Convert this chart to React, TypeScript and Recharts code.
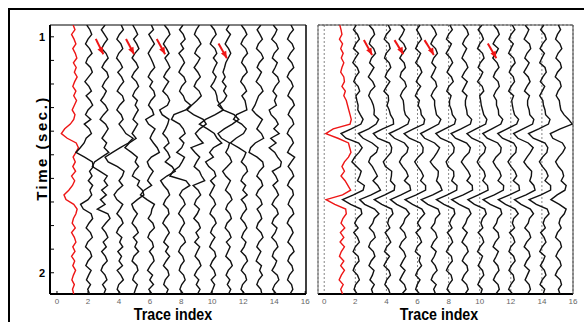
import React from 'react';
import { ScatterChart, Scatter, XAxis, YAxis, CartesianGrid } from 'recharts';

// sample times (sec.) shared by every trace
const times = [
  0.95, 0.97, 0.99, 1.01, 1.03, 1.05, 1.07, 1.09, 1.11, 1.13,
  1.15, 1.17, 1.19, 1.21, 1.23, 1.25, 1.27, 1.29, 1.31, 1.33,
  1.35, 1.37, 1.39, 1.41, 1.43, 1.45, 1.47, 1.49, 1.51, 1.53,
  1.55, 1.57, 1.59, 1.61, 1.63, 1.65, 1.67, 1.69, 1.71, 1.73,
  1.75, 1.77, 1.79, 1.81, 1.83, 1.85, 1.87, 1.89, 1.91, 1.93,
  1.95, 1.97, 1.99, 2.01, 2.03, 2.05, 2.07, 2.09,
];

const timeTicks = [1.0, 1.1, 1.2, 1.3, 1.4, 1.5, 1.6, 1.7, 1.8, 1.9, 2.0];
const traceTicks = [0, 2, 4, 6, 8, 10, 12, 14, 16];

// amplitudes in hundredths of a trace spacing; trace 1 is the red one
const leftRed = [
  4, 16, -6, 10, 22, 2, 18, 28, 6, 24,
  12, 30, 14, 2, 22, 8, 26, 12, -2, 16,
  8, -14, -50, -72, -34, 24, 38, 22, 4, 18,
  2, 20, -6, 14, 0, -24, -55, -42, 8, 30,
  22, 6, -2, 18, -6, 12, 22, 2, 16, -6,
  14, 2, 20, 6, -4, 12, 0, 8,
];

// traces 2..15 of the raw gather
const leftBlack = [
  [-8, 12, 24, 0, -16, 10, 26, -2, -14, 16, 28, 4, -20, 6, 22, -12, 14, 30, 0, -16, 18, -24, 8, 22, -12, -25, -50, -78, -22, 28, 34, 10, 26, 2, 30, 12, 24, 0, -48, -30, 20, 30, 6, -12, 16, 28, -2, -16, 14, 24, 0, -14, 20, 4, -10, 16, -2, 10],
  [10, -14, 6, 26, 4, -12, 16, 30, 6, -10, 22, 32, 8, -8, 18, 2, -18, 12, 28, 0, -22, 14, 30, 10, -10, 20, 4, 34, -12, -58, -72, -22, 24, 4, 26, -12, 18, -20, 10, -40, 28, 42, 14, -10, 14, 28, -2, 18, -12, 12, 24, -4, -16, 10, 22, -6, 14, 2],
  [14, 28, 2, -14, 12, 24, -2, -16, 8, 22, -8, 16, 30, 6, -12, 22, 32, 4, -14, 14, 26, 0, 24, 44, 90, 60, 8, -42, -90, -70, -10, 32, 22, 0, 24, -10, -32, -14, 24, 6, -14, 14, 26, -2, -16, 18, 4, 24, -8, 16, 0, 22, -12, 12, 28, -2, -12, 10],
  [-12, 6, 20, -6, 14, 28, 2, -16, 10, 24, -2, -18, 12, 26, 2, -12, 18, 4, 24, 6, -10, 20, 2, -16, 10, -34, -62, -20, 18, 4, 26, 0, -14, 32, 18, 50, 60, 18, -18, -6, 18, -2, -16, 10, 24, -8, 16, 2, 26, -4, -16, 14, 22, -2, -12, 18, 6, -4],
  [8, 22, -8, 10, 28, 6, -12, 4, 18, 30, 4, -12, 16, -2, 24, 32, 6, -10, 14, 24, -28, -10, 32, 14, 0, 22, 46, 60, 8, -18, -6, 20, 0, -16, 10, -38, -62, -20, 28, 12, 6, -12, 18, 28, -2, -14, 14, 22, -4, 18, 26, 2, -16, 16, -2, 22, -8, 12],
  [-8, 16, 28, 4, -14, 6, 22, -4, 14, 28, 4, -12, 20, 0, -18, 12, 26, 12, -38, -22, 22, 14, 0, -18, 10, 22, -10, 14, 28, -2, 42, 62, 8, -32, -12, 14, 26, 0, -14, 16, 22, -2, -18, 8, 24, 4, -12, 18, 0, 26, 4, -14, 14, 22, -2, -12, 16, 4],
  [12, -10, 14, 26, -2, 16, -14, 8, 22, 2, -14, 18, 30, 4, -10, 14, 26, 62, 30, -46, -62, -10, 14, 26, -10, 18, 4, -28, 22, 6, -12, -52, -72, 32, 56, 8, -10, 14, 26, 0, -16, 10, 22, 2, -12, 16, 28, -2, -16, 10, 20, -2, -12, 16, 26, 4, -8, 14],
  [18, -2, -14, 12, 28, 2, -12, 22, 6, -16, 8, 24, -2, -16, 16, 30, 2, -32, -62, -20, 42, 62, 20, -8, 14, 42, -36, -10, 20, 0, -16, 18, 32, 52, -22, 10, 26, -2, -14, 18, 4, -18, 12, 24, -4, 14, -12, 20, 4, -10, 16, 28, 2, -14, 14, -2, 22, 6],
  [-10, 14, 26, 2, -12, 18, 30, 8, 32, 16, 4, 26, 12, -8, 20, 30, 34, 52, 72, 20, -42, -82, -30, 14, 32, 62, 8, -16, 8, -42, -22, 14, 24, -10, 16, 0, -16, 10, 22, -2, -14, 14, 26, 2, -10, 18, -2, -16, 16, 24, 2, -12, 12, 22, -6, 16, 4, -10],
  [10, -8, 18, 0, -16, 6, 20, 4, -12, -20, -30, -16, -34, -10, -26, -6, -24, -62, -30, 42, 72, 30, -22, -62, -40, 12, 4, -12, 14, 26, -2, -32, -12, 18, 2, -14, 16, 28, 0, -12, 14, 24, -4, -16, 10, 22, -8, 16, 2, -12, 18, 30, 4, -10, 14, -2, 20, 6],
  [-12, 10, 24, 0, -14, 16, 28, 2, -10, 14, 26, -2, -16, 8, 22, -8, 12, 18, 24, -42, -62, -10, 20, 2, -46, -82, -30, 18, 6, -12, 18, 28, 0, -14, 16, -2, 26, -12, 12, 22, -2, -16, 10, 24, 2, -10, 18, 6, -14, 16, 28, 4, -12, 14, 22, -4, -14, 10],
  [14, -10, 8, 24, -2, -14, 16, 30, 4, -10, 18, 2, -16, 14, 28, 0, -12, -24, -42, -14, 24, 6, -12, 18, 32, -22, -52, -62, -10, 26, 32, 4, -12, 16, 26, -2, -16, 12, 22, -10, 10, 20, -4, -14, 16, 28, 2, -12, 14, -2, -16, 18, 6, 24, 0, -12, 14, 20],
  [-6, 18, 4, -16, 14, 26, 0, -12, 20, 6, -10, 22, 32, 8, -8, 16, 2, 14, -32, -20, 10, 26, -2, 32, -22, 12, -32, 4, 22, 46, 40, -12, 10, 24, -8, 14, 28, 2, -14, 16, 26, -2, -14, 18, 6, -16, 12, 24, -2, -12, 16, 4, -14, 20, 30, 4, -10, 14],
  [8, 24, 0, -14, 16, 28, 4, -12, 14, 26, -2, -16, 10, 22, 2, -12, 18, 30, 4, -10, 16, 26, -2, -16, 12, 24, 2, -14, 32, 10, -10, 14, 26, 0, -14, 18, 24, 2, -10, 16, 26, -2, -16, 10, 22, 4, -12, 16, 28, 0, -12, 14, 22, -2, -14, 12, 20, 2],
];

// processed gather: red reference trace and traces 2..15
const rightRed = [
  0, 8, 14, -2, 18, 6, 22, 10, 26, 14,
  6, 26, 30, 14, 36, 26, 42, 50, 58, 66,
  74, 66, -42, -90, -12, 56, 64, 72, 56, 30,
  14, 30, 8, 34, 52, 70, 18, -88, -32, 38,
  42, 20, 8, 32, 4, 26, 2, 30, 10, -2,
  26, 6, 30, 10, -4, 22, 6, 18,
];

const rightBlack = [
  [6, -12, 14, 26, 2, -12, 20, 0, -16, 12, 24, 2, -10, 18, 28, 4, 10, 18, 16, 32, 50, 36, -26, -92, -60, 22, 44, 24, -4, -22, 8, 38, 28, 14, 58, 50, -12, -82, -30, 36, 42, 12, -4, 18, -10, 14, 26, 0, -14, 18, 24, -2, -14, 14, 26, 2, -8, 12],
  [-12, 14, 24, 0, -10, 18, 30, 4, -8, 20, 2, -16, 12, 26, -2, -14, 4, 16, 22, 20, 50, 34, -14, -80, -50, 8, 46, 36, -2, -14, 10, 26, 42, 14, 44, 62, 2, -72, -40, 24, 52, 22, 12, -10, 18, 28, -2, -14, 16, 26, 2, -12, 20, 10, -6, 22, 4, 14],
  [12, 26, 0, -14, 16, 24, -2, -12, 18, 28, 4, -8, 22, 2, -16, 12, 14, 4, 18, 26, 44, 46, -24, -84, -56, 20, 34, 30, 4, -20, -6, 34, 32, 26, 54, 50, -10, -78, -30, 34, 42, 16, 8, 22, -8, 12, 28, 2, -12, 20, 0, -16, 16, 26, 2, -10, 14, 24],
  [-8, 16, 2, -18, 12, 26, 4, -14, 14, 22, -4, -12, 18, 28, 4, -10, 8, 12, 14, 22, 48, 38, -20, -82, -48, 16, 40, 32, 0, -16, 4, 28, 40, 16, 50, 56, -6, -74, -34, 26, 48, 20, 10, -12, 16, 26, -2, -16, 12, 24, 6, -10, 20, 2, -14, 16, 26, 0],
  [16, -6, 12, 26, 2, -12, 20, 6, -12, 16, 28, 8, -8, 20, 0, -14, 12, 4, 20, 24, 46, 40, -26, -86, -52, 18, 36, 34, 4, -18, 2, 24, 38, 20, 52, 52, -8, -80, -32, 28, 46, 18, 0, 20, -10, 14, 26, -2, -14, 18, 10, 26, 2, -12, 16, -2, -12, 14],
  [-12, 10, 22, 0, -14, 16, 28, 4, -8, 18, 4, -12, 16, 24, 2, -12, 10, 10, 16, 22, 50, 36, -22, -80, -54, 10, 42, 26, 6, -18, 5, 34, 32, 22, 46, 58, -2, -76, -34, 32, 44, 16, 10, -12, 16, 26, 2, -12, 20, 8, -10, 14, 26, 0, -12, 20, 4, 16],
  [8, 24, 0, -14, 18, 2, -16, 12, 26, 6, -10, 18, 30, 2, -12, 16, 6, 6, 18, 24, 46, 38, -24, -82, -52, 18, 36, 32, 4, -16, -4, 32, 34, 20, 54, 52, -8, -78, -30, 34, 40, 18, 6, 22, -8, 14, 26, 2, -14, 18, 24, 0, -14, 16, 24, 2, -10, 14],
  [-6, 18, 28, 4, -10, 16, 0, -14, 12, 24, 2, -14, 20, 4, -12, 18, 8, 8, 16, 20, 48, 40, -20, -84, -56, 16, 40, 32, 2, -18, 4, 26, 40, 18, 52, 54, -6, -80, -32, 30, 44, 20, 10, -10, 20, 2, -14, 16, 26, 2, -12, 18, 24, 0, -14, 16, 26, 6],
  [14, -10, 12, 24, 0, -14, 18, 28, 4, -10, 20, 6, -14, 16, 26, 0, 6, 10, 18, 26, 46, 38, -24, -82, -50, 18, 38, 30, 0, -16, 2, 28, 36, 20, 50, 54, -8, -76, -34, 32, 42, 18, 8, 20, -10, 16, 26, 2, -14, 18, 6, -10, 18, 26, 2, -12, 16, 6],
  [-10, 14, 26, 2, -14, 20, 4, -16, 12, 24, 0, -12, 18, 26, 4, -10, 8, 8, 20, 22, 48, 36, -22, -80, -52, 16, 38, 34, 4, -14, 4, 28, 38, 18, 54, 52, -6, -78, -32, 34, 42, 16, 8, -12, 18, 24, 0, -14, 20, 6, -10, 16, 24, 2, -12, 18, 26, 4],
  [10, 26, 2, -12, 16, 0, -14, 18, 28, 4, -10, 16, 24, 2, -14, 18, 6, 10, 16, 24, 50, 38, -24, -84, -54, 18, 36, 32, 2, -18, 2, 26, 38, 16, 52, 56, -8, -80, -34, 28, 48, 18, 10, 24, -8, 16, 26, 0, -12, 18, 28, 4, -12, 16, 22, 0, -14, 12],
  [-8, 16, 2, -14, 20, 28, 4, -10, 18, 2, -16, 12, 24, 4, -12, 20, 8, 8, 18, 22, 48, 40, -22, -82, -54, 12, 44, 26, 4, -16, 6, 34, 32, 22, 48, 56, -2, -76, -34, 26, 46, 20, 12, -10, 18, 28, 2, -14, 16, 24, 2, -12, 20, 6, -8, 18, 26, 8],
  [12, -8, 18, 28, 4, -12, 16, 0, -14, 20, 28, 6, -10, 18, 2, -14, 6, 10, 20, 24, 52, 42, -20, -86, -56, 20, 38, 32, 4, -16, 4, 28, 40, 20, 56, 56, -6, -82, -36, 34, 46, 18, 8, 22, -8, 14, 26, 2, -14, 20, 8, -10, 16, 26, 2, -12, 18, 8],
  [6, 20, 0, -12, 16, 28, 4, -10, 18, 26, 0, -14, 16, 24, 4, -8, 12, 16, 22, 42, 72, 95, 18, -46, -30, 32, 50, 34, 8, -12, 6, 32, 40, 24, 56, 48, -2, -42, 12, 56, 44, 18, 10, 24, 0, -12, 18, 26, 4, -10, 16, 24, 0, -14, 18, 26, 6, 16],
];

// red arrows: start (x1, t1) -> tip (x2, t2)
const leftArrows = [
  { x1: 2.5, t1: 1.009, x2: 2.99, t2: 1.074 },
  { x1: 4.45, t1: 1.009, x2: 4.97, t2: 1.074 },
  { x1: 6.43, t1: 1.009, x2: 6.97, t2: 1.074 },
  { x1: 10.41, t1: 1.028, x2: 10.95, t2: 1.091 },
];
const rightArrows = [
  { x1: 2.55, t1: 1.014, x2: 3.08, t2: 1.077 },
  { x1: 4.52, t1: 1.014, x2: 5.08, t2: 1.074 },
  { x1: 6.45, t1: 1.014, x2: 7.05, t2: 1.077 },
  { x1: 10.52, t1: 1.028, x2: 11.07, t2: 1.091 },
];

const RED = '#ee1616';
const FONT = '"Liberation Sans", Arial, sans-serif';

const toPoints = (amp: number[], idx: number) =>
  times.map((t, i) => ({ x: idx + amp[i] / 100, y: t }));

const NoDot = () => <g />;

const ArrowTip = (props: any) => {
  const { cx, cy, payload } = props;
  if (!payload || !payload.tip) return <g />;
  const ux = 0.47, uy = 0.88;
  const bx = cx - 7 * ux, by = cy - 7 * uy;
  const nx = -uy * 3, ny = ux * 3;
  return <polygon points={`${cx},${cy} ${bx + nx},${by + ny} ${bx - nx},${by - ny}`} fill={RED} />;
};

const intLabel = (v: number) => (Math.abs(v - Math.round(v)) < 1e-6 ? String(Math.round(v)) : '');

interface PanelProps {
  red: number[];
  black: number[][];
  arrows: { x1: number; t1: number; x2: number; t2: number }[];
  xDomain: [number, number];
  raw: boolean;
  marginRight: number;
}

const Panel: React.FC<PanelProps> = ({ red, black, arrows, xDomain, raw, marginRight }) => {
  const frame = raw ? '#000' : '#444';
  return (
    <ScatterChart width={300} height={312} margin={{ top: 15, right: marginRight, bottom: 8, left: 10 }}>
      {!raw && (
        <CartesianGrid stroke="#666" strokeDasharray="2 2" strokeWidth={0.8} />
      )}
      <XAxis
        dataKey="x"
        type="number"
        domain={xDomain}
        allowDataOverflow
        ticks={traceTicks}
        interval={0}
        height={20}
        axisLine={{ stroke: '#000', strokeWidth: 2 }}
        tickLine={raw ? { stroke: '#000' } : false}
        tickSize={-3}
        tickMargin={7}
        tick={{ fill: '#666', fontSize: 8, fontFamily: FONT }}
      />
      <XAxis
        xAxisId="top"
        orientation="top"
        mirror
        type="number"
        domain={xDomain}
        allowDataOverflow
        tick={false}
        tickLine={false}
        axisLine={{ stroke: frame, strokeWidth: 1 }}
      />
      <YAxis
        dataKey="y"
        type="number"
        domain={[0.95, 2.09]}
        allowDataOverflow
        reversed
        ticks={timeTicks}
        interval={0}
        width={30}
        axisLine={{ stroke: raw ? '#000' : '#666', strokeWidth: raw ? 2 : 1 }}
        tickLine={raw ? { stroke: '#000' } : false}
        tickSize={-4}
        tickMargin={9}
        tickFormatter={intLabel}
        tick={raw ? { fill: '#000', fontSize: 11, fontWeight: 'bold', fontFamily: FONT } : false}
      />
      <YAxis
        yAxisId="right"
        orientation="right"
        mirror
        type="number"
        domain={[0.95, 2.09]}
        allowDataOverflow
        reversed
        ticks={timeTicks}
        interval={0}
        tick={false}
        tickLine={raw ? { stroke: '#000' } : false}
        tickSize={4}
        axisLine={{ stroke: frame, strokeWidth: raw ? 1.5 : 1 }}
      />
      <Scatter
        data={toPoints(red, 1)}
        line={{ stroke: RED, strokeWidth: 1.4 }}
        lineJointType="linear"
        shape={NoDot}
        isAnimationActive={false}
      />
      {black.map((amp, k) => (
        <Scatter
          key={k}
          data={toPoints(amp, k + 2)}
          line={{ stroke: '#111', strokeWidth: 1.4 }}
          lineJointType="linear"
          shape={NoDot}
          isAnimationActive={false}
        />
      ))}
      {arrows.map((a, k) => (
        <Scatter
          key={`a${k}`}
          data={[{ x: a.x1, y: a.t1 }, { x: a.x2, y: a.t2, tip: true }]}
          line={{ stroke: RED, strokeWidth: 2 }}
          lineJointType="linear"
          shape={ArrowTip}
          isAnimationActive={false}
        />
      ))}
    </ScatterChart>
  );
};

const axisTitle: React.CSSProperties = {
  position: 'absolute',
  fontFamily: FONT,
  fontWeight: 'bold',
  color: '#000',
  whiteSpace: 'nowrap',
  lineHeight: '14px',
};

export default function App() {
  return (
    <div style={{ position: 'fixed', left: 0, top: 0, width: 584, height: 322, overflow: 'hidden', background: '#fff' }}>
      <div
        style={{
          position: 'absolute',
          left: 8,
          top: 8,
          width: 640,
          height: 340,
          borderTop: '2px solid #000',
          borderLeft: '2px solid #000',
          boxSizing: 'border-box',
        }}
      />
      <div style={{ position: 'absolute', left: 10, top: 10 }}>
        <Panel red={leftRed} black={leftBlack} arrows={leftArrows} xDomain={[-0.45, 16.05]} raw marginRight={4} />
      </div>
      <div style={{ position: 'absolute', left: 278, top: 10 }}>
        <Panel red={rightRed} black={rightBlack} arrows={rightArrows} xDomain={[-0.4, 16]} raw={false} marginRight={5} />
      </div>
      <div
        style={{
          ...axisTitle,
          left: 41.5,
          top: 148,
          fontSize: 15,
          letterSpacing: 2.5,
          transform: 'translate(-50%, -50%) rotate(-90deg)',
        }}
      >
        Time (sec.)
      </div>
      <div style={{ ...axisTitle, left: 172.5, top: 307.5, fontSize: 16, transform: 'translateX(-50%) scaleX(0.89)' }}>
        Trace index
      </div>
      <div style={{ ...axisTitle, left: 438.5, top: 307.5, fontSize: 16, transform: 'translateX(-50%) scaleX(0.89)' }}>
        Trace index
      </div>
    </div>
  );
}
